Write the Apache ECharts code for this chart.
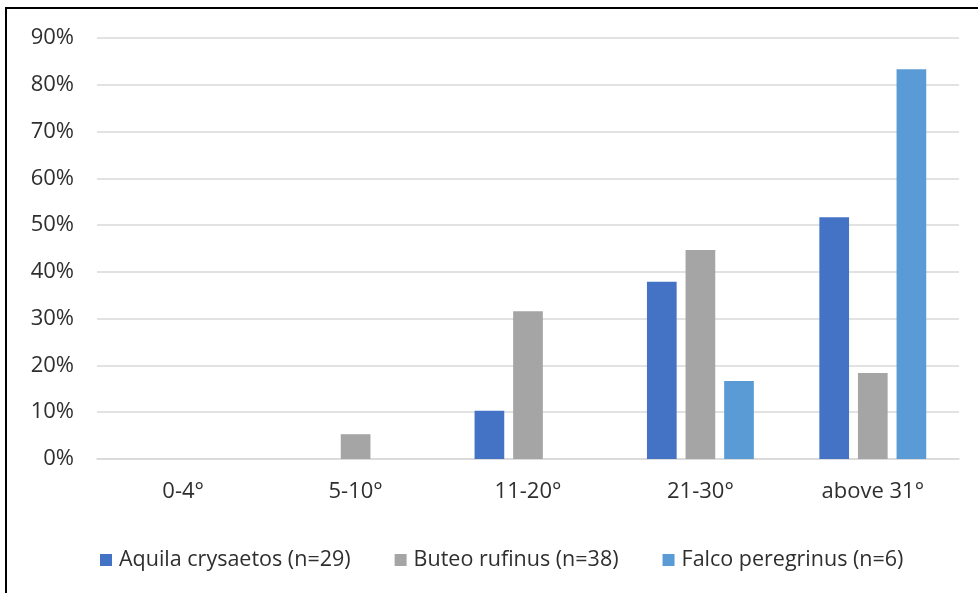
<!DOCTYPE html>
<html>
<head>
<meta charset="utf-8">
<style>
  html, body { margin: 0; padding: 0; background: #fff; }
  #chart { width: 978px; height: 593px; }
</style>
<script src="https://cdn.jsdelivr.net/npm/echarts@6/dist/echarts.min.js"></script>
</head>
<body>
<div id="chart"></div>
<script>
// Slope classes (degrees) and share of nests per species, in percent
const categories = ['0-4°', '5-10°', '11-20°', '21-30°', 'above 31°'];
const aquila = [0, 0, 10.3, 37.9, 51.7];   // Aquila crysaetos, n=29
const buteo = [0, 5.3, 31.6, 44.7, 18.4];  // Buteo rufinus, n=38
const falco = [0, 0, 0, 16.7, 83.3];       // Falco peregrinus, n=6
const seriesNames = ['Aquila crysaetos (n=29)', 'Buteo rufinus (n=38)', 'Falco peregrinus (n=6)'];
const yTicks = { min: 0, max: 90, step: 10 };

const FONT = '"Open Sans", "Noto Sans", sans-serif';
const TEXT = '#2f2f2f';
const GRID = '#d9d9d9';
const colors = ['#4472c4', '#a5a5a5', '#5b9bd5'];

const chart = echarts.init(document.getElementById('chart'), null, { renderer: 'canvas' });

const seriesData = [aquila, buteo, falco];

chart.setOption({
  animation: false,
  backgroundColor: '#fff',
  color: colors,
  textStyle: { fontFamily: FONT, color: TEXT },
  graphic: [{
    type: 'rect',
    shape: { x: 6, y: 8, width: 1000, height: 620 },
    style: { fill: 'none', stroke: '#000', lineWidth: 2 },
    silent: true
  }],
  grid: { left: 97, right: 19, top: 38, bottom: 134, containLabel: false },
  legend: {
    left: 100,
    top: 549,
    padding: 0,
    itemWidth: 12,
    itemHeight: 12,
    itemGap: 44,
    icon: 'rect',
    textStyle: { fontFamily: FONT, fontSize: 21.5, color: TEXT, padding: [0, 0, 0, 2] },
    data: seriesNames
  },
  xAxis: {
    type: 'category',
    data: categories,
    axisLine: { show: true, lineStyle: { color: GRID, width: 1.5 } },
    axisTick: { show: false },
    axisLabel: { fontFamily: FONT, fontSize: 22, color: TEXT, margin: 22 }
  },
  yAxis: {
    type: 'value',
    min: yTicks.min,
    max: yTicks.max,
    interval: yTicks.step,
    axisLine: { show: false },
    axisTick: { show: false },
    splitLine: { lineStyle: { color: GRID, width: 1.5 } },
    axisLabel: {
      fontFamily: FONT, fontSize: 22, color: TEXT, margin: 23,
      formatter: v => v + '%'
    }
  },
  series: seriesNames.map((name, i) => ({
    name,
    type: 'bar',
    data: seriesData[i],
    barGap: '30%',
    barCategoryGap: '38%',
    itemStyle: { color: colors[i] }
  }))
});
</script>
</body>
</html>
